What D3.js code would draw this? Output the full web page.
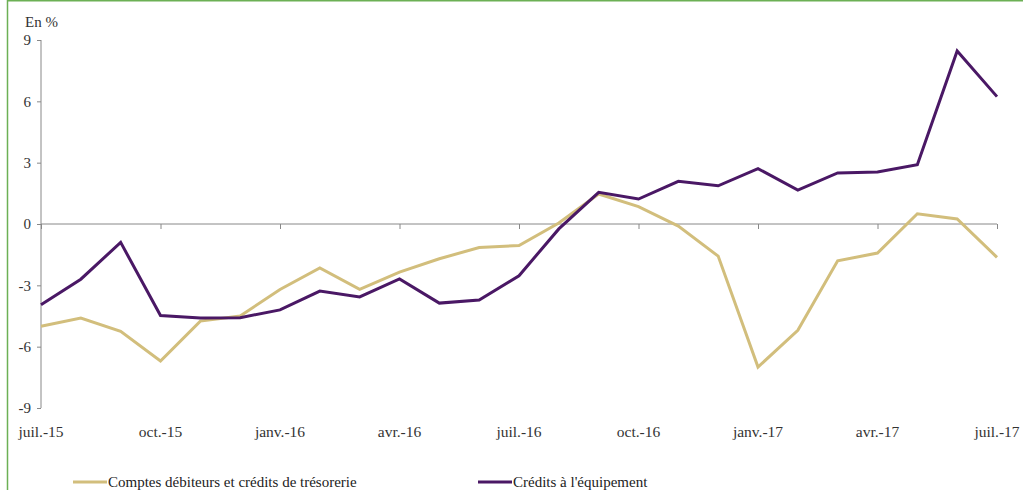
<!DOCTYPE html>
<html><head><meta charset="utf-8">
<script src="https://cdn.jsdelivr.net/npm/d3@7"></script>
<style>body{margin:0;background:#fff}svg{display:block}</style>
</head><body><svg id="c" width="1023" height="490"></svg>
<script>
const months = ["juil.-15","août-15","sept.-15","oct.-15","nov.-15","déc.-15","janv.-16","févr.-16","mars-16","avr.-16","mai-16","juin-16","juil.-16","août-16","sept.-16","oct.-16","nov.-16","déc.-16","janv.-17","févr.-17","mars-17","avr.-17","mai-17","juin-17","juil.-17"];
const tickLabels = ["juil.-15","oct.-15","janv.-16","avr.-16","juil.-16","oct.-16","janv.-17","avr.-17","juil.-17"];
const yTicks = [-9,-6,-3,0,3,6,9];
const comptes = [-5.0,-4.6,-5.25,-6.7,-4.75,-4.5,-3.2,-2.15,-3.2,-2.35,-1.7,-1.15,-1.05,0.05,1.47,0.85,-0.1,-1.57,-7.0,-5.2,-1.8,-1.42,0.5,0.25,-1.63];
const equipement = [-3.95,-2.7,-0.9,-4.48,-4.6,-4.58,-4.2,-3.28,-3.57,-2.69,-3.87,-3.72,-2.53,-0.24,1.55,1.22,2.09,1.87,2.71,1.66,2.5,2.54,2.9,8.46,6.23];
const seriesNames = ["Comptes débiteurs et crédits de trésorerie","Crédits à l'équipement"];
const colors = ["#d2be7c","#4a1865"];
const FONT = "Liberation Serif";

const svg = d3.select("#c");
svg.append("line").attr("x1",7.5).attr("x2",7.5).attr("y1",0).attr("y2",490).attr("stroke","#6cb055").attr("stroke-width",1.5);
svg.append("line").attr("x1",7).attr("x2",1023).attr("y1",0.75).attr("y2",0.75).attr("stroke","#6cb055").attr("stroke-width",1.5);

const x = d3.scalePoint().domain(months).range([41,997]);
const y = d3.scaleLinear().domain([-9,9]).range([408,40]);

const ya = svg.append("g").attr("transform","translate(41,0)")
  .call(d3.axisLeft(y).tickValues(yTicks).tickSize(4).tickPadding(6).tickFormat(d=>String(d)));
ya.attr("font-family",FONT).attr("font-size",15);
ya.selectAll("path,line").attr("stroke","#888");
ya.select(".domain").attr("d","M0,40V408");
ya.selectAll("text").attr("fill","#333");

const xa = svg.append("g").attr("transform",`translate(0,${y(0)})`)
  .call(d3.axisBottom(x).tickValues(tickLabels).tickSize(5).tickFormat(""));
xa.selectAll("path,line").attr("stroke","#888");
xa.select(".domain").attr("d","M41,0H997");
svg.append("g").attr("font-family",FONT).attr("font-size",15.5).selectAll("text").data(tickLabels).join("text")
  .attr("x",d=>x(d)).attr("y",437).attr("text-anchor","middle").attr("fill","#333").text(d=>d);

svg.append("text").attr("x",25).attr("y",27).attr("font-family",FONT).attr("font-size",15).attr("fill","#333").text("En %");

const line = d3.line().x((d,i)=>x(months[i])).y(d=>y(d));
[comptes,equipement].forEach((s,k)=>{
  svg.append("path").datum(s).attr("d",line).attr("fill","none").attr("stroke",colors[k]).attr("stroke-width",3).attr("stroke-linejoin","miter");
});

const lx=[73,478];
seriesNames.forEach((n,k)=>{
  svg.append("line").attr("x1",lx[k]).attr("x2",lx[k]+34).attr("y1",482).attr("y2",482).attr("stroke",colors[k]).attr("stroke-width",3);
  svg.append("text").attr("x",lx[k]+35).attr("y",487).attr("font-family",FONT).attr("font-size",15).attr("fill","#222").text(n);
});
</script></body></html>
